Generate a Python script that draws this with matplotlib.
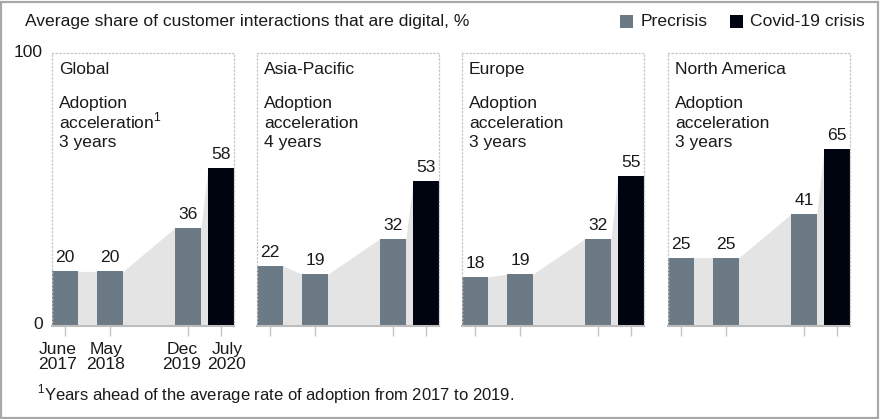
import matplotlib
matplotlib.use("Agg")
import matplotlib.pyplot as plt
from matplotlib.patches import Rectangle

plt.rcParams['font.family'] = ['Liberation Sans', 'DejaVu Sans']
plt.rcParams['mathtext.fontset'] = 'custom'
plt.rcParams['mathtext.rm'] = 'Liberation Sans'

# ---- data ----
regions = ["Global", "Asia-Pacific", "Europe", "North America"]
acceleration = ["3 years", "4 years", "3 years", "3 years"]
periods = ["June\n2017", "May\n2018", "Dec\n2019", "July\n2020"]
global_vals = [20, 20, 36, 58]
asia_vals = [22, 19, 32, 53]
europe_vals = [18, 19, 32, 55]
na_vals = [25, 25, 41, 65]
series_values = [global_vals, asia_vals, europe_vals, na_vals]
is_crisis = [False, False, False, True]
legend_labels = ["Precrisis", "Covid-19 crisis"]

# ---- styles / layout ----
W, H = 880, 419
C_PRE = "#6c7a85"
C_CRISIS = "#00040e"
C_SHADE = "#e4e4e4"
C_TEXT = "#1a1a1a"
FS = 12.6

panel_left_px = [52, 257, 462, 668]
panel_w_px = 182
base_px, top_px = 326, 53
bar_lefts = [0, 45, 123, 156]
bar_w = 26
label_x_px = [58, 106, 182, 227]

fig = plt.figure(figsize=(W / 100, H / 100), dpi=100)


def fx(px):
    return px / W


def fy(py):
    return 1 - py / H


def py2val(py):
    return (base_px - py) / (base_px - top_px) * 100


for i, (name, acc, vals) in enumerate(zip(regions, acceleration, series_values)):
    ax = fig.add_axes([fx(panel_left_px[i]), fy(base_px), panel_w_px / W,
                       (base_px - top_px) / H])
    ax.set_xlim(0, panel_w_px)
    ax.set_ylim(0, 100)
    # shaded connector
    xs, ys = [], []
    for l, v in zip(bar_lefts, vals):
        xs += [l, l + bar_w]
        ys += [v, v]
    ax.fill_between(xs, ys, 0, color=C_SHADE, lw=0, zorder=1)
    centers = [l + bar_w / 2 for l in bar_lefts]
    colors = [C_CRISIS if c else C_PRE for c in is_crisis]
    ax.bar(centers, vals, width=bar_w, color=colors, zorder=2, lw=0)
    for c, v in zip(centers, vals):
        ax.annotate(str(v), (c, v), xytext=(0, 6.5), textcoords="offset points",
                    ha="center", va="baseline", fontsize=FS, color=C_TEXT)
    ax.set_xticks(centers)
    ax.set_xticklabels([])
    ax.set_yticks([])
    ax.tick_params(axis="x", length=7, width=1, color="#c4c4c4", direction="out")
    for s in ["top", "left", "right"]:
        ax.spines[s].set_linestyle((0, (1, 2)))
        ax.spines[s].set_color("#c6c6c6")
        ax.spines[s].set_linewidth(0.9)
    ax.spines["bottom"].set_color("#bdbdbd")
    ax.spines["bottom"].set_linewidth(1.5)
    ax.patch.set_alpha(0)

    ax.text(7, py2val(74), name, fontsize=FS, color=C_TEXT, va="baseline")
    sup = "$^{\\mathrm{1}}$" if i == 0 else ""
    ax.text(7, py2val(108), "Adoption", fontsize=FS, color=C_TEXT, va="baseline")
    ax.text(7, py2val(128), "acceleration" + sup, fontsize=FS, color=C_TEXT,
            va="baseline")
    ax.text(7, py2val(147), acc, fontsize=FS, color=C_TEXT, va="baseline")

    if i == 0:
        for lx, lab in zip(label_x_px, periods):
            fig.text(fx(lx), fy(369), lab, fontsize=FS, color=C_TEXT,
                     ha="center", va="baseline", linespacing=1.0)

# y labels
fig.text(fx(43), fy(57), "100", fontsize=FS, color=C_TEXT, ha="right", va="baseline")
fig.text(fx(43), fy(329), "0", fontsize=FS, color=C_TEXT, ha="right", va="baseline")

# title
fig.text(fx(25), fy(26), "Average share of customer interactions that are digital, %",
         fontsize=FS, color=C_TEXT, va="baseline")

# legend
fig.patches.append(Rectangle((fx(620), fy(28)), 13 / W, 13 / H, transform=fig.transFigure,
                             color=C_PRE, lw=0))
fig.text(fx(641), fy(26), legend_labels[0], fontsize=FS, color=C_TEXT, va="baseline")
fig.patches.append(Rectangle((fx(730), fy(28)), 13 / W, 13 / H, transform=fig.transFigure,
                             color=C_CRISIS, lw=0))
fig.text(fx(750), fy(26), legend_labels[1], fontsize=FS, color=C_TEXT, va="baseline")

# footnote
fig.text(fx(37), fy(400), "$^{\\mathrm{1}}$Years ahead of the average rate of adoption from 2017 to 2019.",
         fontsize=12, color=C_TEXT, va="baseline")

# border
fig.patches.append(Rectangle((1 / W, 1 / H), 1 - 3 / W, 1 - 3 / H, transform=fig.transFigure,
                             fill=False, ec="#a8a8a8", lw=1.6))

fig.savefig("out.png", dpi=100)
